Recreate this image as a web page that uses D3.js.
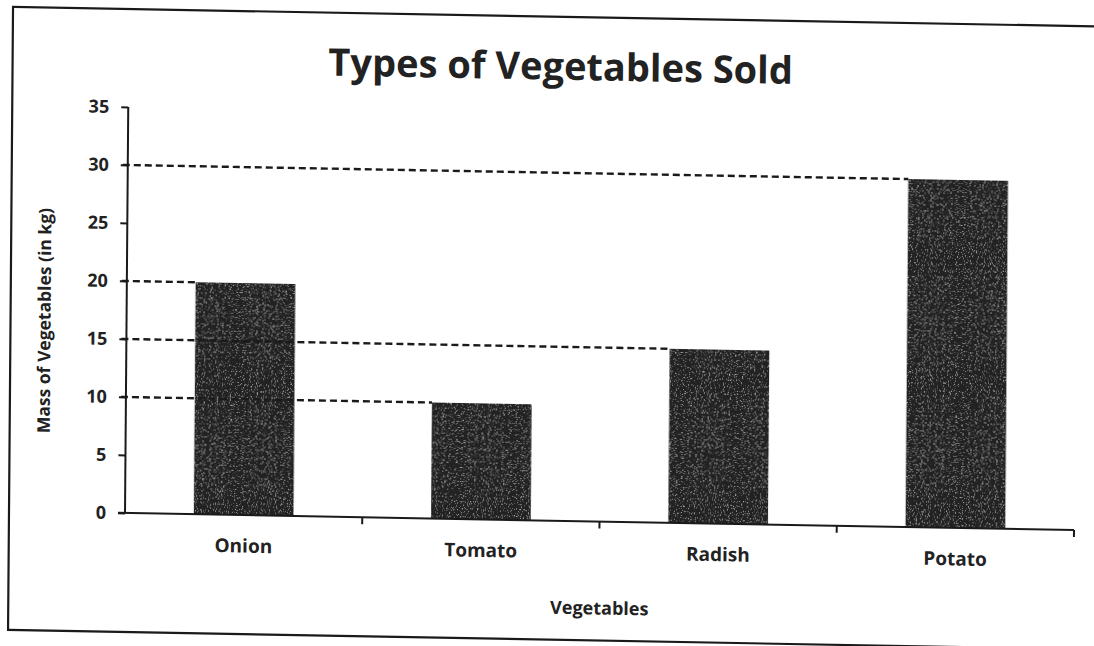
<!DOCTYPE html>
<html>
<head>
<meta charset="utf-8">
<script src="https://cdn.jsdelivr.net/npm/d3@7/dist/d3.min.js"></script>
<style>
  html, body { margin: 0; padding: 0; background: #fff; }
  svg { display: block; }
  text { font-family: "Open Sans", Lato, "DejaVu Sans", sans-serif; font-weight: bold; fill: #222; }
</style>
</head>
<body>
<svg id="chart" width="1094" height="646"></svg>
<script>
// ---- data ----
const categories = ["Onion", "Tomato", "Radish", "Potato"];
const values = [20, 10, 15, 30];
const yTicks = [0, 5, 10, 15, 20, 25, 30, 35];
const titleText = "Types of Vegetables Sold";
const xTitle = "Vegetables";
const yTitle = "Mass of Vegetables (in kg)";

// ---- layout ----
const plot = { left: 125, right: 1074, top: 107, bottom: 513 };
const ink = "#1a1a1a";
const font = "'Open Sans', Lato, sans-serif";

const svg = d3.select("#chart");

// noise texture for scanned look on bars
const defs = svg.append("defs");
const f = defs.append("filter").attr("id", "grain").attr("x", 0).attr("y", 0).attr("width", 1).attr("height", 1);
f.append("feTurbulence").attr("type", "fractalNoise").attr("baseFrequency", 0.85).attr("numOctaves", 2).attr("seed", 3).attr("result", "noise");
f.append("feColorMatrix").attr("in", "noise").attr("type", "matrix")
  .attr("values", "0 0 0 0 1  0 0 0 0 1  0 0 0 0 1  1.6 0 0 0 -0.95").attr("result", "speck");
f.append("feComposite").attr("in", "speck").attr("in2", "SourceGraphic").attr("operator", "in").attr("result", "speckIn");
f.append("feMerge").call(m => { m.append("feMergeNode").attr("in", "SourceGraphic"); m.append("feMergeNode").attr("in", "speckIn"); });

// slight scan tilt around plot origin
const px = plot.left, py = plot.bottom;
const g = svg.append("g")
  .attr("transform", `translate(${px},${py}) matrix(1,0.018,-0.008,1,0,0) translate(${-px},${-py})`);

// frame
g.append("rect").attr("x", 9).attr("y", 9).attr("width", 1110).attr("height", 623)
  .attr("fill", "none").attr("stroke", ink).attr("stroke-width", 2.2);

const x = d3.scaleBand().domain(categories).range([plot.left, plot.right])
  .paddingInner(0.58).paddingOuter(0.29);
const y = d3.scaleLinear().domain([0, 35]).range([plot.bottom, plot.top]);

// bars
g.selectAll("rect.bar").data(categories).join("rect").attr("class", "bar")
  .attr("x", d => x(d)).attr("width", x.bandwidth())
  .attr("y", (d, i) => y(values[i])).attr("height", (d, i) => y(0) - y(values[i]))
  .attr("fill", "#222").attr("filter", "url(#grain)");

// dashed guide lines from axis to bar tops
g.selectAll("line.guide").data(categories).join("line").attr("class", "guide")
  .attr("x1", plot.left - 5).attr("x2", d => x(d))
  .attr("y1", (d, i) => y(values[i])).attr("y2", (d, i) => y(values[i]))
  .attr("stroke", ink).attr("stroke-width", 2.4).attr("stroke-dasharray", "7,4");

// y axis
const yAxis = g.append("g").attr("transform", `translate(${plot.left},0)`)
  .call(d3.axisLeft(y).tickValues(yTicks).tickSize(7).tickPadding(12));
yAxis.select(".domain").attr("stroke", ink).attr("stroke-width", 2).attr("d", `M-0,${plot.top}V${plot.bottom}`);
yAxis.selectAll(".tick line").attr("stroke", ink).attr("stroke-width", 2);
yAxis.selectAll(".tick text").attr("font-size", 18).attr("font-family", font)
  .attr("font-weight", "bold").attr("fill", "#222");

// x axis
const xAxis = g.append("g").attr("transform", `translate(0,${plot.bottom})`)
  .call(d3.axisBottom(x).tickSize(0).tickPadding(24));
xAxis.select(".domain").attr("stroke", ink).attr("stroke-width", 2).attr("d", `M${plot.left - 7},0H${plot.right}`);
xAxis.selectAll(".tick text").attr("font-size", 19).attr("font-family", font)
  .attr("font-weight", "bold").attr("fill", "#222");
// category boundary ticks
const step = x.step();
const bounds = categories.map(c => x(c) - step * x.paddingInner() / 2).slice(1).concat([plot.right]);
g.selectAll("line.ctick").data(bounds).join("line").attr("class", "ctick")
  .attr("x1", d => d).attr("x2", d => d).attr("y1", plot.bottom).attr("y2", plot.bottom + 7)
  .attr("stroke", ink).attr("stroke-width", 2);

// titles
g.append("text").attr("x", 557).attr("y", 72).attr("text-anchor", "middle")
  .attr("font-size", 38).text(titleText);
g.append("text").attr("x", 600).attr("y", 606).attr("text-anchor", "middle")
  .attr("font-size", 18).text(xTitle);
g.append("text").attr("transform", `translate(49,${(plot.top + plot.bottom) / 2 + 12}) rotate(-90)`)
  .attr("text-anchor", "middle").attr("font-size", 17.5).text(yTitle);
</script>
</body>
</html>
